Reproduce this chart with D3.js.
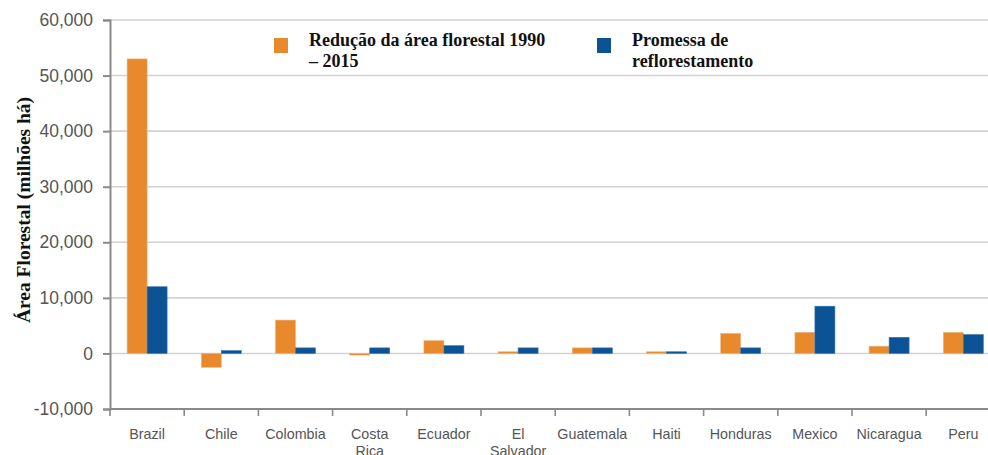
<!DOCTYPE html>
<html>
<head>
<meta charset="utf-8">
<script src="https://cdn.jsdelivr.net/npm/d3@7"></script>
<style>
  body { margin: 0; background: #fff; }
  #chart svg { display: block; }
</style>
</head>
<body>
<div id="chart"></div>
<script>
// Chart data
const countries = ['Brazil', 'Chile', 'Colombia', 'Costa Rica', 'Ecuador', 'El Salvador',
    'Guatemala', 'Haiti', 'Honduras', 'Mexico', 'Nicaragua', 'Peru'];
const seriesNames = ['Redução da área florestal 1990 – 2015', 'Promessa de reflorestamento'];
const forestLoss = [53000, -2500, 6000, -300, 2300, 300, 1000, 300, 3600, 3800, 1300, 3800];
const reforestPledge = [12000, 500, 1000, 1000, 1400, 1000, 1000, 300, 1000, 8500, 2900, 3400];
const yTicks = [-10000, 0, 10000, 20000, 30000, 40000, 50000, 60000];

const colors = ['#e8892b', '#0b5394'];

function createChart() {
    const width = 988, height = 455;
    const margin = { top: 20, left: 110, bottom: 46 };

    const svg = d3.select('#chart')
        .append('svg')
        .attr('width', width)
        .attr('height', height);

    const plotBottom = height - margin.bottom;

    // Scales
    const y = d3.scaleLinear()
        .domain([-10000, 60000])
        .range([plotBottom, margin.top]);

    const x = d3.scaleBand()
        .domain(countries)
        .range([margin.left, margin.left + countries.length * 74.2])
        .paddingInner(0)
        .paddingOuter(0);

    const xSub = d3.scaleBand()
        .domain([0, 1])
        .range([0, x.bandwidth()])
        .paddingInner(0)
        .paddingOuter(0.855);

    // Gridlines
    svg.append('g')
        .selectAll('line')
        .data(yTicks)
        .join('line')
        .attr('x1', margin.left)
        .attr('x2', width)
        .attr('y1', d => y(d))
        .attr('y2', d => y(d))
        .style('stroke', '#d2d2d2')
        .style('stroke-width', '1.6px');

    // Bars
    const rows = countries.map((c, i) => ({ country: c, values: [forestLoss[i], reforestPledge[i]] }));

    svg.append('g')
        .selectAll('g')
        .data(rows)
        .join('g')
        .attr('transform', d => `translate(${x(d.country)},0)`)
        .selectAll('rect')
        .data(d => d.values.map((v, k) => ({ k, v })))
        .join('rect')
        .attr('x', d => xSub(d.k))
        .attr('width', xSub.bandwidth())
        .attr('y', d => y(Math.max(0, d.v)))
        .attr('height', d => Math.abs(y(d.v) - y(0)))
        .style('fill', d => colors[d.k])
        .style('stroke', d => d.k === 0 ? '#f1b57a' : '#3c74aa')
        .style('stroke-width', '0.6px');

    // Y axis (plain hyphen for negatives, like the original)
    const fmt = d3.format(',');
    const yAxis = d3.axisLeft(y)
        .tickValues(yTicks)
        .tickFormat(d => fmt(d).replace('\u2212', '-'))
        .tickSize(7)
        .tickPadding(10);

    const yg = svg.append('g')
        .attr('transform', `translate(${margin.left},0)`)
        .call(yAxis);
    yg.select('.domain').style('stroke', '#8a8a8a').style('stroke-width', '2px');
    yg.selectAll('.tick line').style('stroke', '#8a8a8a').style('stroke-width', '2px');
    yg.selectAll('.tick text')
        .style('font-family', '"Liberation Sans", Arial, sans-serif')
        .style('font-size', '17.5px')
        .style('fill', '#555');

    // X axis: ticks at band boundaries
    const xg = svg.append('g');
    xg.append('line')
        .attr('x1', margin.left)
        .attr('x2', width)
        .attr('y1', y(-10000))
        .attr('y2', y(-10000))
        .style('stroke', '#8a8a8a')
        .style('stroke-width', '2px');

    xg.selectAll('.xtick')
        .data(countries)
        .join('line')
        .attr('class', 'xtick')
        .attr('x1', d => x(d))
        .attr('x2', d => x(d))
        .attr('y1', y(-10000))
        .attr('y2', y(-10000) + 7)
        .style('stroke', '#8a8a8a')
        .style('stroke-width', '1.6px');

    const labels = xg.selectAll('.xlabel')
        .data(countries)
        .join('text')
        .attr('class', 'xlabel')
        .attr('text-anchor', 'middle')
        .attr('y', plotBottom + 30)
        .style('font-family', '"Liberation Sans", Arial, sans-serif')
        .style('font-size', '14.3px')
        .style('fill', '#555');

    labels.each(function(d) {
        const parts = (d === 'Costa Rica' || d === 'El Salvador') ? d.split(' ') : [d];
        d3.select(this).selectAll('tspan')
            .data(parts)
            .join('tspan')
            .attr('x', x(d) + x.bandwidth() / 2)
            .attr('dy', (p, i) => i === 0 ? 0 : 17)
            .text(p => p);
    });

    // Y axis title
    svg.append('text')
        .attr('transform', `translate(30,210) rotate(-90)`)
        .attr('text-anchor', 'middle')
        .style('font-family', '"Liberation Serif", "Times New Roman", serif')
        .style('font-weight', 'bold')
        .style('font-size', '19.5px')
        .style('fill', '#111')
        .text('Área Florestal (milhões há)');

    // Legend
    const legendX = [274, 597];
    const legendLines = [['Redução da área florestal 1990', '– 2015'], ['Promessa de', 'reflorestamento']];
    const legend = svg.append('g');
    seriesNames.forEach((name, i) => {
        const g = legend.append('g').attr('transform', `translate(${legendX[i]},38)`);
        g.append('rect')
            .attr('width', 14)
            .attr('height', 15)
            .style('fill', colors[i]);
        const t = g.append('text')
            .attr('x', 35)
            .attr('y', 8)
            .style('font-family', '"Liberation Serif", "Times New Roman", serif')
            .style('font-weight', 'bold')
            .style('font-size', '18px')
            .style('fill', '#111');
        t.selectAll('tspan')
            .data(legendLines[i])
            .join('tspan')
            .attr('x', 35)
            .attr('dy', (p, j) => j === 0 ? 0 : 21)
            .text(p => p);
    });
}

document.addEventListener('DOMContentLoaded', createChart);
</script>
</body>
</html>
